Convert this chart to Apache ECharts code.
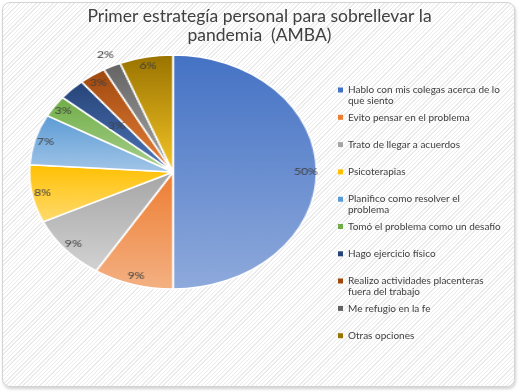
<!DOCTYPE html>
<html>
<head>
<meta charset="utf-8">
<script src="https://cdn.jsdelivr.net/npm/echarts@6/dist/echarts.min.js"></script>
<style>
  html, body { margin: 0; padding: 0; background: #fff; }
  #wrap { position: relative; width: 519px; height: 392px; overflow: hidden; background: #fff; }
  #frame { position: absolute; left: 2px; top: 2px; width: 511px; height: 383px; border: 1px solid #d4d4d4; border-radius: 8px;
    box-shadow: 1px 2px 3px rgba(0,0,0,0.18);
    background: repeating-linear-gradient(-45deg, #ffffff 0px, #ffffff 2px, #ebebeb 2px, #ebebeb 3px); }
  #main { position: absolute; left: 0; top: 0; width: 519px; height: 392px; }
  #pie { position: absolute; left: 23px; top: 0; width: 300px; height: 392px; transform-origin: 150px 172px; transform: scaleX(1.227); pointer-events: none; }
</style>
</head>
<body>
<div id="wrap">
  <div id="frame"></div>
  <div id="main"></div>
  <div id="pie"></div>
</div>
<script>
const titleText = 'Primer estrategía personal para sobrellevar la\npandemia  (AMBA)';
const categories = [
  'Hablo con mis colegas acerca de lo que siento',
  'Evito pensar en el problema',
  'Trato de llegar a acuerdos',
  'Psicoterapias',
  'Planifico como resolver el problema',
  'Tomó el problema como un desafío',
  'Hago ejercicio físico',
  'Realizo actividades placenteras fuera del trabajo',
  'Me refugio en la fe',
  'Otras opciones'
];
const values = [50, 9, 9, 8, 7, 3, 3, 3, 2, 6];

const baseColors = ['#4472C4','#ED7D31','#A5A5A5','#FFC000','#5B9BD5','#70AD47','#264478','#9E480E','#636363','#997300'];
const lightColors = ['#8FAADC','#F4B183','#D2D2D2','#FFDB70','#A3C6E8','#A9D18E','#4E74B8','#E8813A','#A8A8A8','#F5C526'];

// label placement: 'mid' ring near the rim, 'out' outside, 'in' deeper inside
const labelRing = ['mid','mid','mid','mid','mid','mid','in','mid','out','mid'];
// legend text wrap widths (two-line items)
const wrapWidth = { 0: 160, 4: 130, 7: 145 };

const fontFam = 'Lato, "Open Sans", sans-serif';
const R = 117;

function grad(i) {
  return new echarts.graphic.LinearGradient(0, 0, 0, 1, [
    { offset: 0, color: baseColors[i] },
    { offset: 1, color: lightColors[i] }
  ]);
}

// Main chart: title + legend
const main = echarts.init(document.getElementById('main'), null, { renderer: 'canvas' });
const legends = categories.map((c, i) => {
  const wrap = wrapWidth[i] !== undefined;
  return {
    orient: 'vertical',
    left: 338,
    top: 84.5 + i * 27.3,
    padding: 0,
    itemWidth: 5,
    itemHeight: wrap ? 16 : 5,
    icon: wrap ? 'path://M0,0H5V5H0Z M0,16L5,16' : 'rect',
    selectedMode: false,
    itemStyle: { borderWidth: 0 },
    textStyle: { fontFamily: fontFam, fontSize: 10, color: '#404040', lineHeight: 11,
      width: wrap ? wrapWidth[i] : 200, overflow: 'break' },
    data: [{ name: c, itemStyle: { color: baseColors[i], borderWidth: 0 } }]
  };
});
main.setOption({
  animation: false,
  title: {
    text: titleText,
    left: 'center',
    top: 2,
    textStyle: { fontFamily: fontFam, fontSize: 17.5, fontWeight: 'normal', color: '#404040', lineHeight: 19 }
  },
  legend: legends,
  series: [{
    type: 'pie',
    radius: [0, 0],
    center: [173, 172],
    silent: true,
    label: { show: false },
    labelLine: { show: false },
    data: categories.map((c, i) => ({ name: c, value: values[i], itemStyle: { color: baseColors[i] } }))
  }]
});

// Pie chart (scaled horizontally to an ellipse)
const pie = echarts.init(document.getElementById('pie'), null, { renderer: 'canvas' });
const total = values.reduce((a, b) => a + b, 0);
const pctLabel = {
  show: true,
  position: 'inside',
  fontFamily: fontFam,
  fontSize: 10,
  color: '#404040',
  formatter: p => Math.round(p.value / total * 100) + '%'
};
function ring(kind, radius) {
  return {
    type: 'pie',
    radius: radius,
    center: [150, 172],
    startAngle: 90,
    clockwise: true,
    silent: true,
    z: 5,
    itemStyle: { color: 'rgba(0,0,0,0)', borderWidth: 0 },
    labelLine: { show: false },
    label: pctLabel,
    data: categories.map((c, i) => ({
      name: c, value: values[i],
      label: { show: labelRing[i] === kind }
    }))
  };
}
pie.setOption({
  animation: false,
  series: [
    {
      type: 'pie',
      radius: [0, R],
      center: [150, 172],
      startAngle: 90,
      clockwise: true,
      silent: true,
      label: { show: false },
      labelLine: { show: false },
      itemStyle: { borderColor: '#ffffff', borderWidth: 1.5 },
      data: categories.map((c, i) => ({ name: c, value: values[i], itemStyle: { color: grad(i) } }))
    },
    ring('mid', [R * 0.8, R]),
    ring('out', [R, R * 1.16]),
    ring('in', [R * 0.3, R * 0.76])
  ]
});
</script>
</body>
</html>
